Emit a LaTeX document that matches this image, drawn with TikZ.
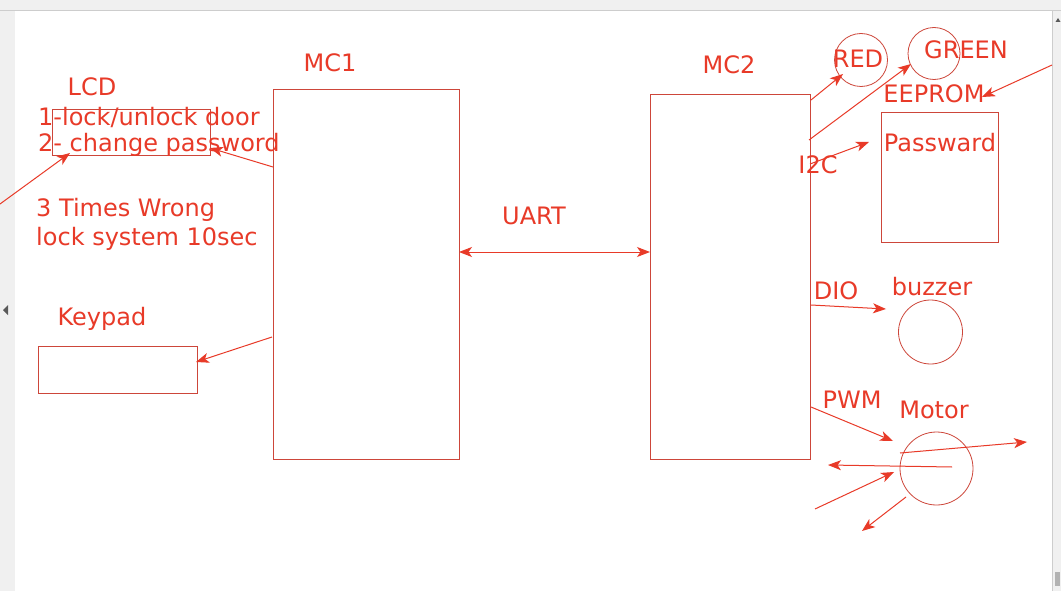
\documentclass[tikz,border=0pt]{standalone}
\usepackage{fontspec}
\setmainfont{DejaVu Sans}
\usetikzlibrary{arrows.meta}
\definecolor{ink}{RGB}{232,58,40}
\definecolor{boxline}{RGB}{205,70,58}
\definecolor{uibar}{RGB}{240,240,240}
\definecolor{uiline}{RGB}{205,205,205}
\tikzset{
  lbl/.style={text=ink, inner sep=0pt, font=\fontsize{24}{29}\selectfont},
  blk/.style={draw=boxline, line width=0.8pt, inner sep=0pt},
  ring/.style={draw=boxline, line width=0.8pt, circle, inner sep=0pt},
  conn/.style={draw=ink, line width=1pt, -{Stealth[length=13pt,width=10pt,inset=3.5pt]}},
  conn2/.style={draw=ink, line width=1pt, {Stealth[length=13pt,width=10pt,inset=3.5pt]}-{Stealth[length=13pt,width=10pt,inset=3.5pt]}}
}
\begin{document}
\begin{tikzpicture}[x=1pt,y=-1pt]
\useasboundingbox (0,0) rectangle (1061,591);
\fill[white] (0,0) rectangle (1061,591);
% UI frame
\fill[uibar] (0,0) rectangle (1061,10);
\draw[uiline, line width=0.8pt] (0,10.5) -- (1061,10.5);
\fill[uibar] (0,11) rectangle (15,591);
\fill[gray!70!black] (3,310) -- (8,305) -- (8,315) -- cycle;
\fill[uibar] (1052,11) rectangle (1061,591);
\draw[uiline, line width=0.6pt] (1052,11) -- (1052,591);
\fill[gray!70!black] (1055.5,22) -- (1058,18) -- (1060.5,22) -- cycle;
\fill[gray!60] (1054.5,572) rectangle (1059.5,586);
% Microcontrollers
\node[blk, minimum width=186pt, minimum height=370pt] (mc1) at (366,274) {};
\node[lbl] (mc1t) at (330,63) {MC1};
\node[blk, minimum width=160pt, minimum height=365pt] (mc2) at (730,276.5) {};
\node[lbl] (mc2t) at (729,65) {MC2};
% LCD
\node[lbl] (lcdt) at (92,87) {LCD};
\node[blk, minimum width=158pt, minimum height=46pt] (lcd) at (131,132) {};
\node[lbl, anchor=west] (opt1) at (38,117) {1-lock/unlock door};
\node[lbl, anchor=west] (opt2) at (38,145) {2- change password};
\node[lbl, anchor=west] (wrong1) at (36,210) {3 Times Wrong};
\node[lbl, anchor=west] (wrong2) at (36,239) {lock system 10sec};
% Keypad
\node[lbl] (keyt) at (102,319) {Keypad};
\node[blk, minimum width=159pt, minimum height=47pt] (key) at (117.5,369.5) {};
% UART
\node[lbl] (uart) at (534,216) {UART};
% Right side
\node[ring, minimum size=53pt] (red) at (861,60) {};
\node[lbl] (redt) at (858,59) {RED};
\node[ring, minimum size=52pt] (green) at (934,53.5) {};
\node[lbl] (greent) at (966,50) {GREEN};
\node[lbl] (eeprom) at (934,94) {EEPROM};
\node[blk, minimum width=117pt, minimum height=130pt] (pass) at (939.5,177) {};
\node[lbl] (passt) at (940,143) {Passward};
\node[lbl] (i2c) at (818,165) {I2C};
\node[lbl] (dio) at (836,291) {DIO};
\node[lbl] (buzt) at (932,287) {buzzer};
\node[ring, minimum size=64pt] (buz) at (930.5,332) {};
\node[lbl] (pwm) at (852,400) {PWM};
\node[lbl] (mott) at (934,410) {Motor};
\node[ring, minimum size=73pt] (mot) at (936.5,468.5) {};
% coordinates for connector ends
\coordinate (c1) at (273,167);
\coordinate (c1e) at (210,148);
\coordinate (c2) at (0,204);
\coordinate (c2e) at (70,153);
\coordinate (c3) at (272,337);
\coordinate (c3e) at (196,362);
\coordinate (c4) at (459,252);
\coordinate (c4e) at (650,252);
\coordinate (c5) at (811,100);
\coordinate (c5e) at (843,74);
\coordinate (c6) at (809,140);
\coordinate (c6e) at (911,64);
\coordinate (c7) at (1052,65);
\coordinate (c7e) at (982,97);
\coordinate (c8) at (810,164);
\coordinate (c8e) at (869,142);
\coordinate (c9) at (811,305);
\coordinate (c9e) at (886,309);
\coordinate (c10) at (811,407);
\coordinate (c10e) at (893,441);
\coordinate (c11) at (900,453);
\coordinate (c11e) at (1027,442);
\coordinate (c12) at (952,467);
\coordinate (c12e) at (828,465);
\coordinate (c13) at (815,509);
\coordinate (c13e) at (894,472);
\coordinate (c14) at (906,497);
\coordinate (c14e) at (862,531);
% connectors
\draw[conn] (c1) -- (c1e);
\draw[conn] (c2) -- (c2e);
\draw[conn] (c3) -- (c3e);
\draw[conn2] (c4) -- (c4e);
\draw[conn] (c5) -- (c5e);
\draw[conn] (c6) -- (c6e);
\draw[conn] (c7) -- (c7e);
\draw[conn] (c8) -- (c8e);
\draw[conn] (c9) -- (c9e);
\draw[conn] (c10) -- (c10e);
\draw[conn] (c11) -- (c11e);
\draw[conn] (c12) -- (c12e);
\draw[conn] (c13) -- (c13e);
\draw[conn] (c14) -- (c14e);
\end{tikzpicture}
\end{document}
